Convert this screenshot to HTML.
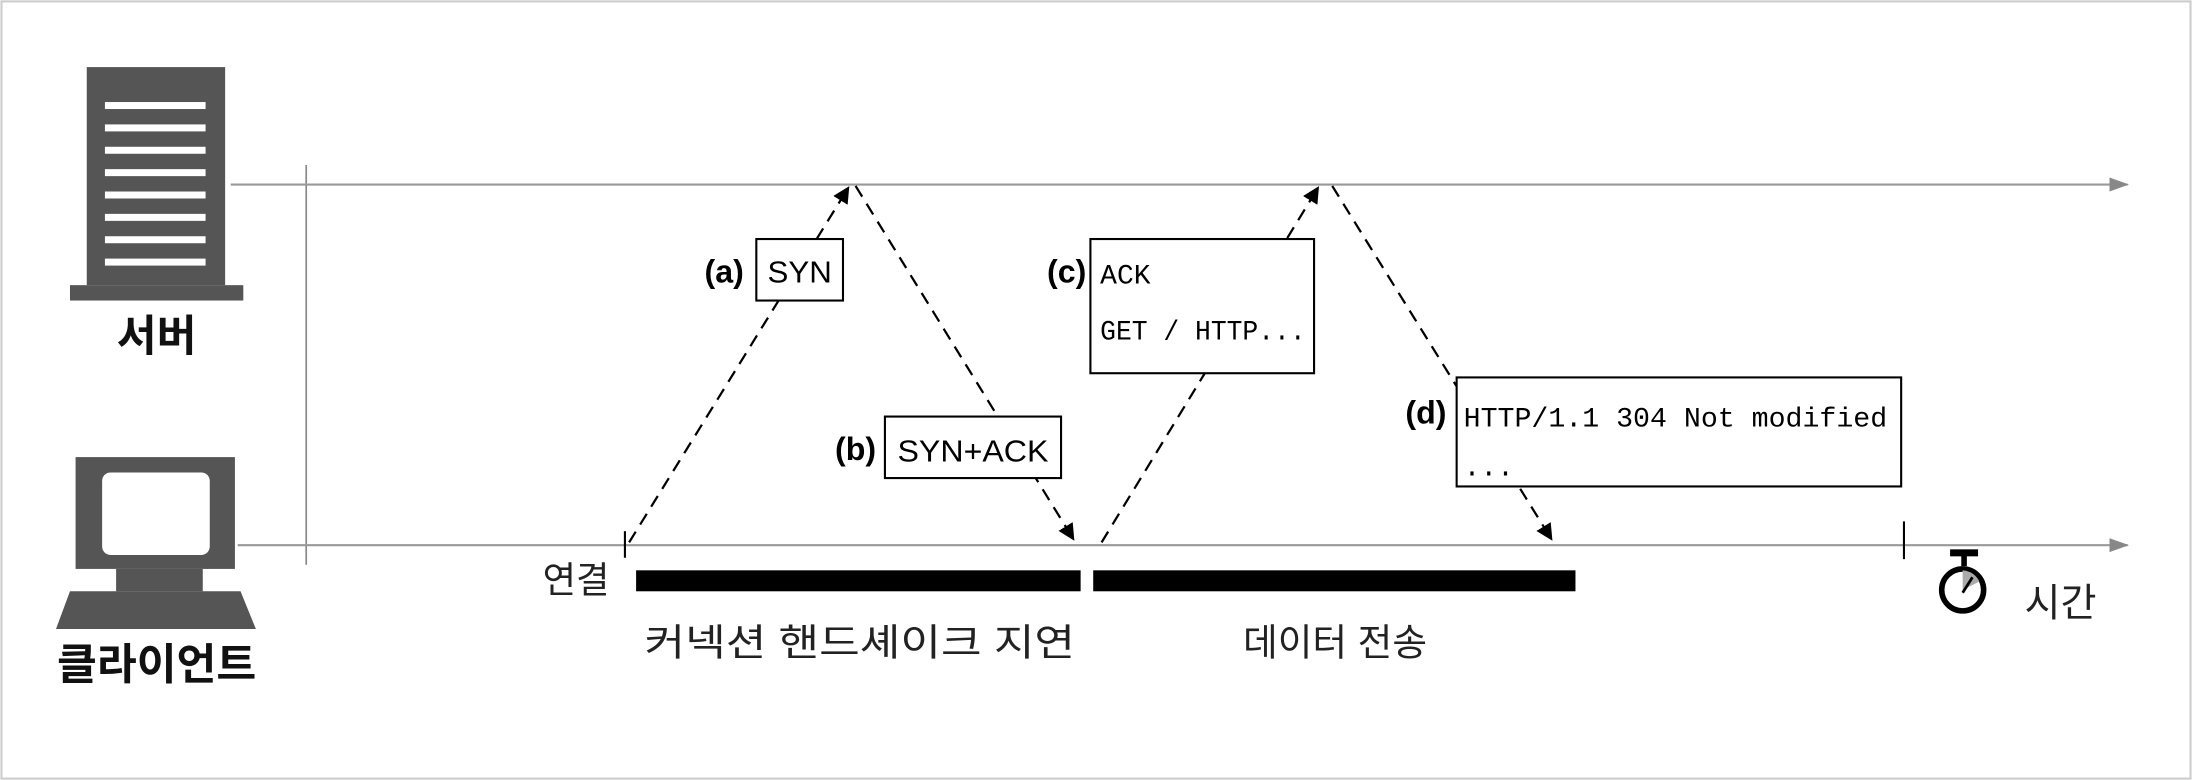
<!DOCTYPE html>
<html><head><meta charset="utf-8"><style>
html,body{margin:0;padding:0;background:#fff;}
svg{display:block;}
.k{font-family:"Liberation Sans","Noto Sans CJK KR",sans-serif;}
.m{font-family:"Liberation Mono","DejaVu Sans Mono",monospace;}
</style></head><body>
<svg width="2192" height="780" viewBox="0 0 1568 558" xmlns="http://www.w3.org/2000/svg">
<defs>
<marker id="ah" markerWidth="12" markerHeight="12" refX="11" refY="6" orient="auto" markerUnits="userSpaceOnUse"><path d="M0,0 L12,6 L0,12 Z" fill="#000"/></marker>
<marker id="gh" markerWidth="14" markerHeight="10" refX="13" refY="5" orient="auto" markerUnits="userSpaceOnUse"><path d="M0,0 L14,5 L0,10 Z" fill="#888"/></marker>
</defs>
<rect x="1" y="1" width="1566" height="556" fill="#fff" stroke="#ccc" stroke-width="1.5"/>
<!-- server -->
<rect x="62" y="48" width="99" height="156" fill="#555"/>
<rect x="50" y="204" width="124" height="11" fill="#555"/>
<g fill="#fff">
<rect x="75" y="73" width="72" height="5"/><rect x="75" y="89" width="72" height="5"/><rect x="75" y="105" width="72" height="5"/><rect x="75" y="121" width="72" height="5"/><rect x="75" y="137" width="72" height="5"/><rect x="75" y="153" width="72" height="5"/><rect x="75" y="169" width="72" height="5"/><rect x="75" y="185" width="72" height="5"/>
</g>
<text x="112" y="251" class="k" font-size="31" font-weight="bold" text-anchor="middle" fill="#111">서버</text>
<!-- client -->
<rect x="54" y="327" width="114" height="80" fill="#555"/>
<rect x="73" y="338" width="77" height="59" rx="6" fill="#fff"/>
<rect x="83" y="407" width="62" height="16" fill="#555"/>
<path d="M50,423 L172,423 L183,450 L40,450 Z" fill="#555"/>
<text x="112" y="486" class="k" font-size="31" font-weight="bold" text-anchor="middle" fill="#111">클라이언트</text>
<!-- timeline -->
<line x1="219" y1="118" x2="219" y2="404" stroke="#888" stroke-width="1.2"/>
<line x1="165" y1="132" x2="1522" y2="132" stroke="#999" stroke-width="1.5" marker-end="url(#gh)"/>
<line x1="170" y1="390" x2="1522" y2="390" stroke="#999" stroke-width="1.5" marker-end="url(#gh)"/>
<line x1="447" y1="380" x2="447" y2="399" stroke="#000" stroke-width="1.5"/>
<line x1="1362" y1="373" x2="1362" y2="400" stroke="#000" stroke-width="1.5"/>
<!-- dashed -->
<g stroke="#000" stroke-width="1.6" stroke-dasharray="9,6" fill="none">
<line x1="450" y1="388" x2="607" y2="134" marker-end="url(#ah)"/>
<line x1="612" y1="133" x2="768" y2="386" marker-end="url(#ah)"/>
<line x1="788" y1="388" x2="943" y2="134" marker-end="url(#ah)"/>
<line x1="953" y1="133" x2="1110" y2="386" marker-end="url(#ah)"/>
</g>
<!-- boxes -->
<rect x="541" y="171" width="62" height="44" fill="#fff" stroke="#000" stroke-width="1.5"/>
<text x="572" y="202" class="k" font-size="22" text-anchor="middle" textLength="46" lengthAdjust="spacingAndGlyphs">SYN</text>
<text x="518" y="202" class="k" font-size="23" font-weight="bold" text-anchor="middle">(a)</text>
<rect x="633" y="298" width="126" height="44" fill="#fff" stroke="#000" stroke-width="1.5"/>
<text x="696" y="330" class="k" font-size="22" text-anchor="middle" textLength="108" lengthAdjust="spacingAndGlyphs">SYN+ACK</text>
<text x="612" y="329" class="k" font-size="23" font-weight="bold" text-anchor="middle">(b)</text>
<rect x="780" y="171" width="160" height="96" fill="#fff" stroke="#000" stroke-width="1.5"/>
<text x="787" y="203" class="m" font-size="20">ACK</text>
<text x="787" y="243" class="m" font-size="20" textLength="147" lengthAdjust="spacingAndGlyphs">GET / HTTP...</text>
<text x="763" y="202" class="k" font-size="23" font-weight="bold" text-anchor="middle">(c)</text>
<rect x="1042" y="270" width="318" height="78" fill="#fff" stroke="#000" stroke-width="1.5"/>
<text x="1047" y="305" class="m" font-size="20" textLength="303" lengthAdjust="spacingAndGlyphs">HTTP/1.1 304 Not modified</text>
<text x="1047" y="340" class="m" font-size="20">...</text>
<text x="1020" y="303" class="k" font-size="23" font-weight="bold" text-anchor="middle">(d)</text>
<!-- bars -->
<rect x="455" y="408" width="318" height="15" fill="#000"/>
<rect x="782" y="408" width="345" height="15" fill="#000"/>
<text x="412" y="424" class="k" font-size="26" text-anchor="middle" fill="#222">연결</text>
<text x="615" y="469" class="k" font-size="27" text-anchor="middle" fill="#222" textLength="308" lengthAdjust="spacingAndGlyphs">커넥션 핸드셰이크 지연</text>
<text x="955" y="469" class="k" font-size="27" text-anchor="middle" fill="#222">데이터 전송</text>
<!-- stopwatch -->
<rect x="1395" y="393" width="20" height="5" fill="#000"/>
<line x1="1405" y1="396" x2="1405" y2="405" stroke="#000" stroke-width="4"/>
<circle cx="1404" cy="422" r="15" fill="#fff" stroke="#000" stroke-width="4"/>
<path d="M1404,422 L1404,408 A14,14 0 0,1 1416,416 Z" fill="#aaa"/>
<line x1="1404" y1="424" x2="1411" y2="413" stroke="#000" stroke-width="2"/>
<text x="1474" y="441" class="k" font-size="28" text-anchor="middle" fill="#222">시간</text>
</svg>
</body></html>
